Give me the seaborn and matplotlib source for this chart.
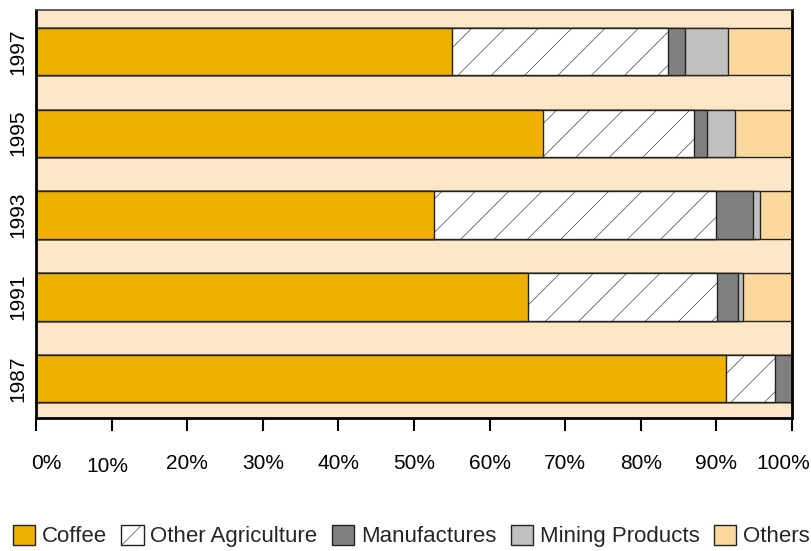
import matplotlib
matplotlib.use("Agg")
import matplotlib.pyplot as plt
from matplotlib.patches import Patch
import matplotlib.transforms as mtransforms
import seaborn as sns
import pandas as pd

# shares of exports by year (percent)
years = ["1997", "1995", "1993", "1991", "1987"]
coffee = [55.0, 67.0, 52.7, 65.1, 91.3]
other_agri = [28.6, 20.1, 37.2, 25.0, 6.5]
manufactures = [2.2, 1.7, 4.9, 2.8, 2.2]
mining = [5.7, 3.7, 1.0, 0.6, 0.0]
others = [8.5, 7.5, 4.2, 6.5, 0.0]

names = ["Coffee", "Other Agriculture", "Manufactures", "Mining Products", "Others"]
colors = {"Coffee": "#F0B000", "Other Agriculture": "#FFFFFF", "Manufactures": "#808080",
          "Mining Products": "#C0C0C0", "Others": "#FCD89E"}
hatches = {"Other Agriculture": "/"}
bg = "#FEE7C6"

sns.set_theme(style="white")
plt.rcParams["font.family"] = ["Liberation Sans", "DejaVu Sans"]
plt.rcParams["hatch.linewidth"] = 0.4

df = pd.DataFrame({"year": years, "Coffee": coffee, "Other Agriculture": other_agri,
                   "Manufactures": manufactures, "Mining Products": mining, "Others": others})
cum = df[names].cumsum(axis=1)
cum["year"] = df["year"]

fig = plt.figure(figsize=(8.11, 5.51), dpi=100)
ax = fig.add_axes([36 / 811, 1 - 418 / 551, (792 - 36) / 811, (418 - 10) / 551])
ax.set_facecolor(bg)

# draw cumulative totals back to front so each segment sits on the previous one
for name in reversed(names):
    sns.barplot(data=cum, x=name, y="year", order=years, orient="h", color=colors[name],
                saturation=1, width=0.58, edgecolor="#222222", linewidth=1,
                hatch=hatches.get(name, None), ax=ax)

ax.set_xlim(0, 100)
ax.set_ylim(4.48, -0.506)
ax.set_xlabel("")
ax.set_ylabel("")
ax.set_xticks(range(0, 101, 10))
ax.set_xticklabels([f"{v}%" for v in range(0, 101, 10)])
ax.tick_params(axis="x", bottom=True, direction="out", length=9, width=1.5, color="black",
               pad=17, labelsize=15, labelcolor="black")
ax.tick_params(axis="y", left=False, length=0, pad=6, labelcolor="black", labelsize=15,
               labelrotation=90)
for lab in ax.get_yticklabels():
    lab.set_va("center")
xl = ax.get_xticklabels()
xl[0].set_transform(xl[0].get_transform() + mtransforms.ScaledTranslation(10 / 100, 0, fig.dpi_scale_trans))
xl[1].set_transform(xl[1].get_transform() + mtransforms.ScaledTranslation(-4 / 100, -3 / 100, fig.dpi_scale_trans))
xl[-1].set_transform(xl[-1].get_transform() + mtransforms.ScaledTranslation(-9 / 100, 0, fig.dpi_scale_trans))

for side in ["left", "right", "bottom"]:
    ax.spines[side].set_color("black")
    ax.spines[side].set_linewidth(2)
ax.spines["top"].set_color("#444444")
ax.spines["top"].set_linewidth(1.2)

handles = [Patch(facecolor=colors[n], edgecolor="#222222", linewidth=1, hatch=hatches.get(n, None))
           for n in names]
leg = fig.legend(handles, names, loc="center left", ncol=5, frameon=False,
                 handlelength=1.0, handleheight=1.0, handletextpad=0.3,
                 columnspacing=0.65, fontsize=16, borderaxespad=0, borderpad=0)
leg.set_bbox_to_anchor((13 / 811, 1 - 536 / 551), transform=fig.transFigure)

fig.savefig("out.png", dpi=100, facecolor="white")
